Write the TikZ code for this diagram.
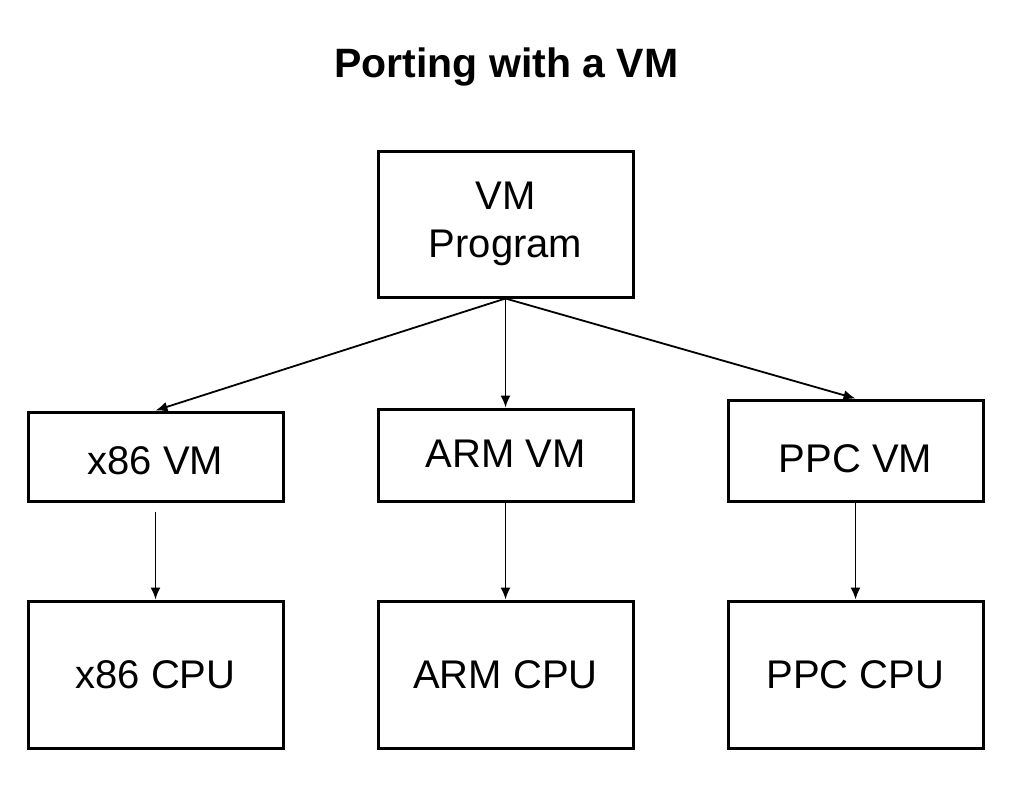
\documentclass[tikz,border=0pt]{standalone}
\usepackage{fontspec}
\setmainfont{Liberation Sans}
\usetikzlibrary{arrows.meta}

\begin{document}
\begin{tikzpicture}
      [
        x=1pt, y=-1pt,
        box/.style={draw, line width=3pt, inner sep=0pt, minimum width=255pt,
          font=\fontsize{40}{48}\selectfont, align=center},
        title/.style={anchor=base, font=\bfseries\fontsize{41}{49}\selectfont},
        link/.style={line width=1.8pt, ->, >={Latex[length=12pt,width=10pt]}}
      ]
      \useasboundingbox (0,0) rectangle (1024,790);
      % title
      \node [title] (title) at (506.5,77) {Porting with a VM};
      % program
      \node [box, minimum height=146pt] (prog) at (505.5,224) {VM\\Program};
      % virtual machines
      \foreach \name/\x/\y/\h/\th/\txt in {x86vm/155.5/456.5/89/36/x86 VM,
          armvm/505.5/455/92/25/ARM VM, ppcvm/855.5/450.5/101/43/PPC VM} {
          \node [box, minimum height=\h pt, text height=\th pt, text depth=0pt]
            (\name) at (\x,\y) {\txt};
      }
      % cpus
      \foreach \name/\x/\txt in {x86cpu/155.5/x86 CPU, armcpu/505.5/ARM CPU,
          ppccpu/855.5/PPC CPU} {
          \node [box, minimum height=147pt] (\name) at (\x,674.5) {\txt};
      }
      % program to vms
      \foreach \name in {x86vm, armvm, ppcvm} {
          \draw [link] (prog.south) -- (\name.north);
      }
      % vms to cpus
      \draw [link, shorten <=9pt] (x86vm.south) -- (x86cpu.north);
      \draw [link] (armvm.south) -- (armcpu.north);
      \draw [link] (ppcvm.south) -- (ppccpu.north);
    \end{tikzpicture}
\end{document}
